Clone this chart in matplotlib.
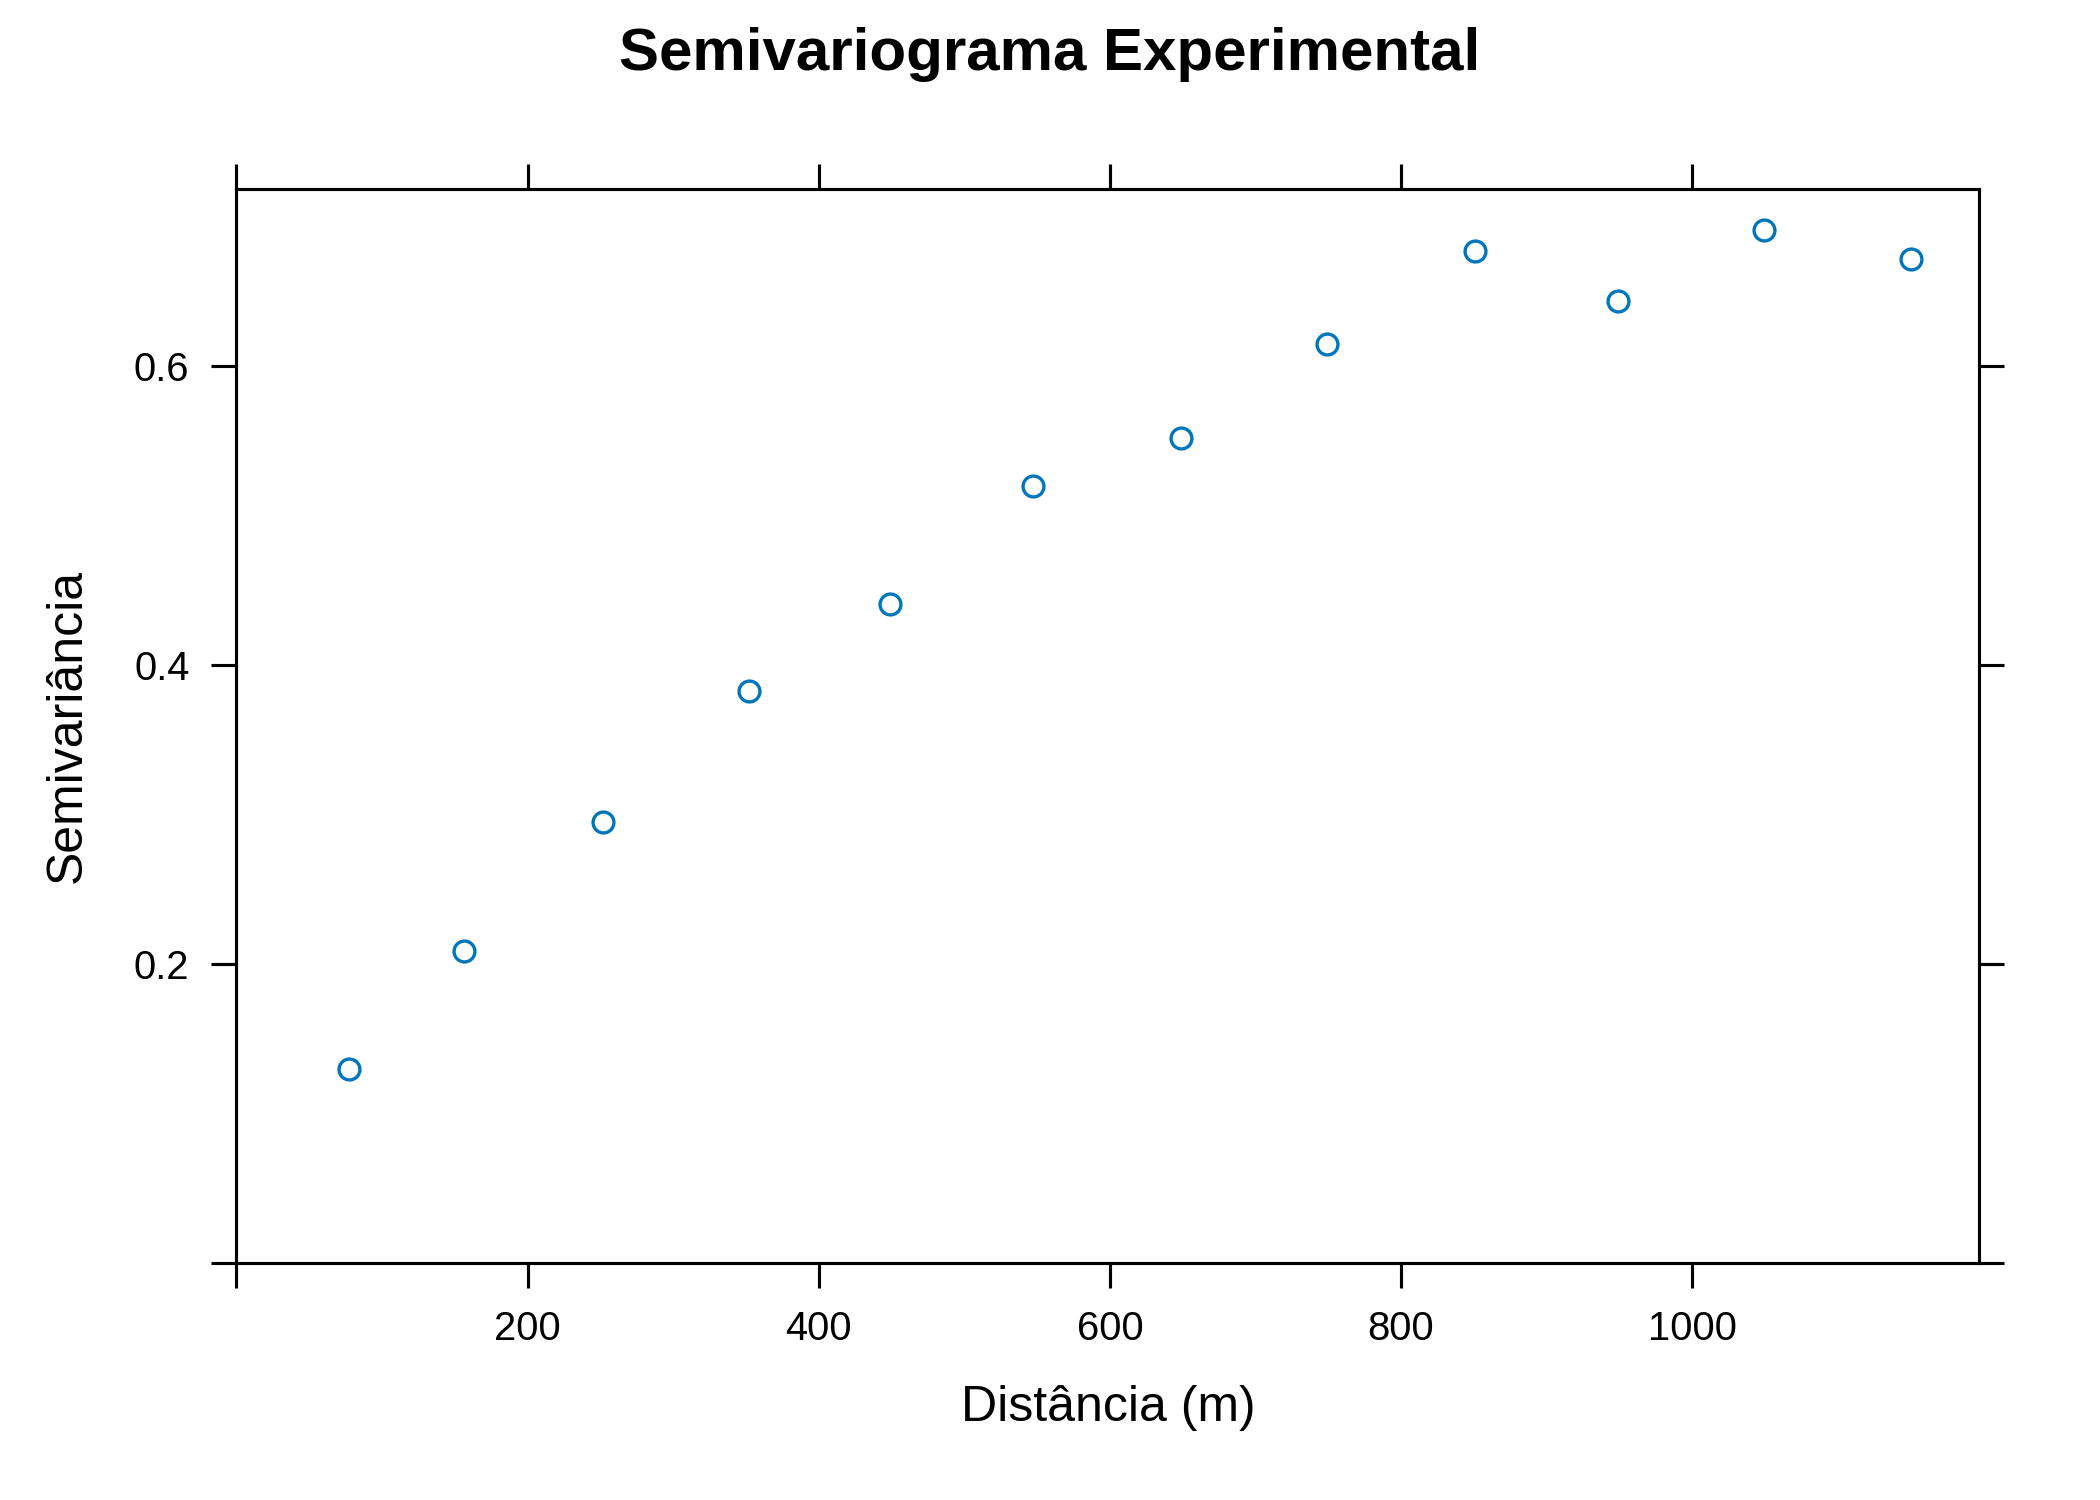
import matplotlib
matplotlib.use("Agg")
import matplotlib.pyplot as plt

# ----------------------------
# Data
# ----------------------------
distancia = [77, 156, 252, 352, 449, 547, 649, 749, 851, 949, 1049, 1150]
semivariancia = [0.130, 0.209, 0.295, 0.383, 0.441, 0.520, 0.552, 0.615,
                 0.677, 0.644, 0.691, 0.672]

x_ticks = [0, 200, 400, 600, 800, 1000]
x_tick_labels = ["", "200", "400", "600", "800", "1000"]
y_ticks = [0.0, 0.2, 0.4, 0.6]
y_tick_labels = ["", "0.2", "0.4", "0.6"]

plt.rcParams["font.family"] = ["Liberation Sans", "DejaVu Sans"]

fig = plt.figure(figsize=(7, 5), dpi=300)
ax = fig.add_axes([0.1126, 0.1578, 0.8298, 0.716])

ax.plot(distancia, semivariancia, linestyle="none", marker="o",
        markersize=5.0, markerfacecolor="none", markeredgecolor="#0076BA",
        markeredgewidth=0.8)

ax.set_xlim(0, 1197)
ax.set_ylim(0, 0.7184)

ax.set_xticks(x_ticks)
ax.set_xticklabels(x_tick_labels)
ax.set_yticks(y_ticks)
ax.set_yticklabels(y_tick_labels)

ax.tick_params(axis="both", which="both", direction="out", length=6,
               width=0.75, labelsize=9.6, pad=5.3,
               top=True, right=True, labeltop=False, labelright=False)

for spine in ax.spines.values():
    spine.set_linewidth(0.75)

fig.text(0.5, 1 - 54 / 1500, "Semivariograma Experimental",
         ha="center", va="center", fontsize=14.4, fontweight="bold")
fig.text(1108 / 2100, 1 - 1408 / 1500, "Distância (m)",
         ha="center", va="center", fontsize=12)
fig.text(68 / 2100, 1 - 726 / 1500, "Semivariância",
         ha="center", va="center", fontsize=12, rotation=90)

fig.savefig("out.png", dpi=300)
